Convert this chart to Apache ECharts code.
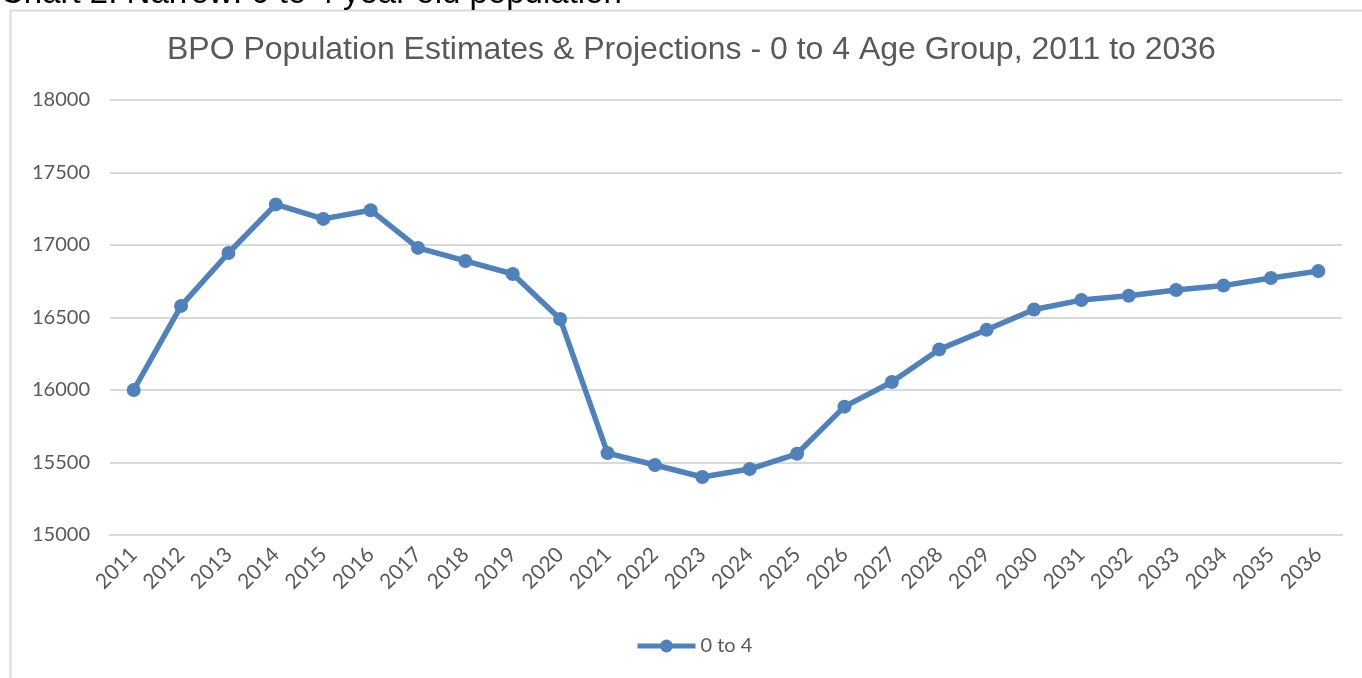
<!DOCTYPE html>
<html lang="en">
  <head>
    <meta charset="UTF-8" />
    <title>BPO Population Estimates & Projections</title>
    <style>
      html, body {
        margin: 0;
        width: 100%;
        height: 100%;
        background: #fff;
      }
      .chart {
        position: absolute;
        left: 0;
        top: 0;
        width: 1362px;
        height: 678px;
      }
    </style>
    <script src="https://cdn.jsdelivr.net/npm/echarts@6/dist/echarts.min.js"></script>
  </head>
  <body>
    <div id="chart" class="chart"></div>
    <script>
      const years = ['2011', '2012', '2013', '2014', '2015', '2016', '2017', '2018', '2019', '2020',
        '2021', '2022', '2023', '2024', '2025', '2026', '2027', '2028', '2029', '2030',
        '2031', '2032', '2033', '2034', '2035', '2036']
      const age0to4 = [16000, 16580, 16945, 17280, 17180, 17240, 16980, 16890, 16800, 16490,
        15565, 15483, 15400, 15455, 15560, 15885, 16055, 16280, 16415, 16555,
        16620, 16650, 16690, 16720, 16772, 16820]

      const font = 'Lato, "Open Sans", sans-serif'
      const grey = '#595959'
      const blue = '#4F81BD'

      const chart = echarts.init(document.getElementById('chart'))
      chart.setOption({
        animation: false,
        graphic: [
          {
            type: 'rect',
            shape: { x: 10.5, y: 10.5, width: 1400, height: 700 },
            style: { fill: 'none', stroke: '#d9d9d9', lineWidth: 2 }
          },
          {
            type: 'text',
            left: 0,
            top: -23,
            style: { text: 'Chart 2: Narrow: 0 to 4 year old population', font: '33px "Liberation Sans", Arial', fill: '#000' }
          }
        ],
        title: {
          text: 'BPO Population Estimates & Projections - 0 to 4 Age Group, 2011 to 2036',
          left: 162,
          top: 29,
          textStyle: { fontFamily: '"Liberation Sans", Arial', fontSize: 32, fontWeight: 'normal', color: grey }
        },
        legend: {
          data: ['0 to 4'],
          top: 631,
          left: 630,
          itemWidth: 58,
          itemHeight: 16,
          itemGap: 3,
          lineStyle: { width: 5, color: blue },
          itemStyle: { color: blue },
          textStyle: { fontFamily: font, fontSize: 20, color: grey }
        },
        grid: { left: 110, right: 20, top: 100, bottom: 143 },
        xAxis: {
          type: 'category',
          data: years,
          boundaryGap: true,
          axisLine: { lineStyle: { color: '#d9d9d9', width: 2 } },
          axisTick: { show: false },
          axisLabel: { rotate: 45, interval: 0, fontFamily: font, fontSize: 21, color: grey, margin: 16 }
        },
        yAxis: {
          type: 'value',
          min: 15000,
          max: 18000,
          interval: 500,
          axisLine: { show: false },
          axisTick: { show: false },
          axisLabel: { fontFamily: font, fontSize: 20, color: grey, margin: 20, formatter: v => String(v) },
          splitLine: { lineStyle: { color: '#d9d9d9', width: 2 } }
        },
        series: [
          {
            name: '0 to 4',
            type: 'line',
            data: age0to4,
            symbol: 'circle',
            symbolSize: 14,
            lineStyle: { width: 5.5, color: blue },
            itemStyle: { color: blue }
          }
        ]
      })
    </script>
  </body>
</html>
